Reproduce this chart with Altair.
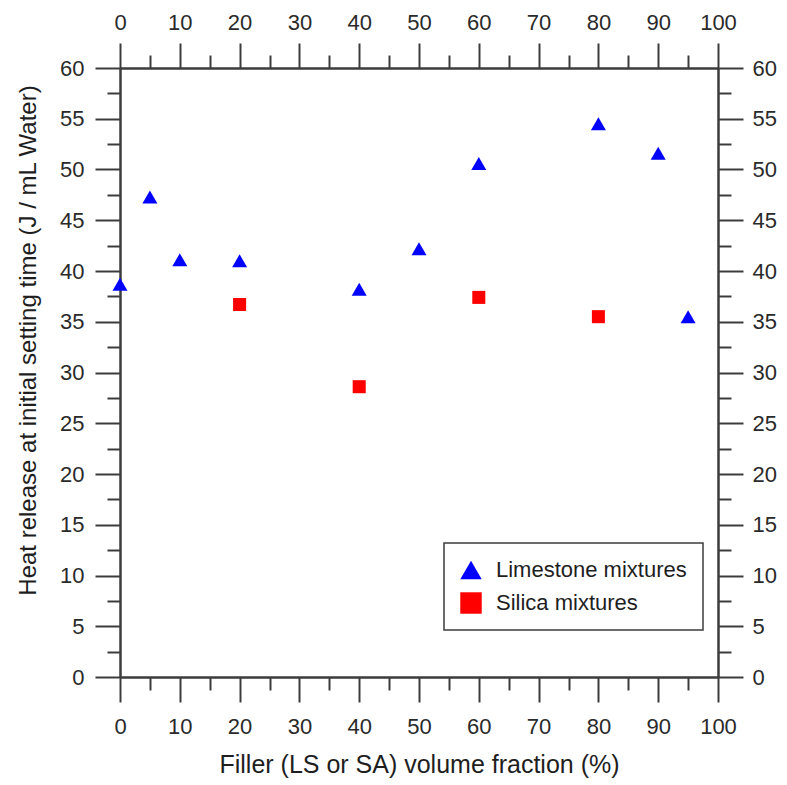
import altair as alt
import pandas as pd

# ---- data ----
series_names = ["Limestone mixtures", "Silica mixtures"]
ls_x = [0, 5, 10, 20, 40, 50, 60, 80, 90, 95]
ls_y = [38.7, 47.3, 41.1, 41.0, 38.2, 42.2, 50.6, 54.5, 51.6, 35.5]
sa_x = [20, 40, 60, 80]
sa_y = [36.7, 28.6, 37.4, 35.5]

x_major = [0, 10, 20, 30, 40, 50, 60, 70, 80, 90, 100]
x_minor = [5, 15, 25, 35, 45, 55, 65, 75, 85, 95]
y_major = [0, 5, 10, 15, 20, 25, 30, 35, 40, 45, 50, 55, 60]
y_minor = [2.5, 7.5, 12.5, 17.5, 22.5, 27.5, 32.5, 37.5, 42.5, 47.5, 52.5, 57.5]

df_ls = pd.DataFrame({"x": ls_x, "y": ls_y, "series": series_names[0]})
df_sa = pd.DataFrame({"x": sa_x, "y": sa_y, "series": series_names[1]})
df_all = pd.concat([df_ls, df_sa], ignore_index=True)

FONT = "Liberation Sans"
AX = "#3c3c3c"
xs = alt.Scale(domain=[0, 100], nice=False, zero=False)
ys = alt.Scale(domain=[0, 60], nice=False, zero=False)

common = dict(domainColor=AX, domainWidth=2, tickColor=AX, tickWidth=2,
              labelFont=FONT, labelFontSize=22, labelColor="#2a2a2a", grid=False,
              labelFlush=False, labelOverlap=False,
              titleFont=FONT, titleColor="#1e1e1e", titleFontWeight="normal")


def axis(orient, values, major, title=None, **kw):
    args = dict(common)
    args.update(orient=orient, values=values, tickSize=25 if major else 13,
                labels=major, title=title)
    args.update(kw)
    return alt.Axis(**args)


legend = alt.Legend(title=None, orient="none", legendX=324, legendY=475,
                    strokeColor=AX, fillColor="white",
                    padding=16, labelFont=FONT, labelFontSize=22, labelColor="#1e1e1e",
                    labelLimit=400, symbolSize=460, rowPadding=11, labelOffset=14,
                    symbolStrokeWidth=0)

color = alt.Color("series:N", scale=alt.Scale(domain=series_names, range=["#0000ff", "#ff0000"]),
                  legend=legend)
shape = alt.Shape("series:N", scale=alt.Scale(domain=series_names, range=["triangle-up", "square"]),
                  legend=legend)

layer_a = alt.Chart(df_ls).mark_point(filled=True, size=225, opacity=1).encode(
    x=alt.X("x:Q", scale=xs, axis=axis("bottom", x_major, True,
                                        title="Filler (LS or SA) volume fraction (%)",
                                        titleFontSize=25, labelPadding=14, titlePadding=15)),
    y=alt.Y("y:Q", scale=ys, axis=axis("left", y_major, True,
                                        title="Heat release at initial setting time (J / mL Water)",
                                        titleFontSize=24, labelPadding=11,
                                        titleX=-80, titleY=272)),
    color=color, shape=shape,
)

layer_b = alt.Chart(df_sa).mark_point(filled=True, size=170, opacity=1).encode(
    x=alt.X("x:Q", scale=xs, axis=axis("bottom", x_minor, False)),
    y=alt.Y("y:Q", scale=ys, axis=axis("left", y_minor, False)),
    color=color, shape=shape,
)

layer_c = alt.Chart(df_all).mark_point(opacity=0).encode(
    x=alt.X("x:Q", scale=xs, axis=axis("top", x_major, True, labelPadding=9)),
    y=alt.Y("y:Q", scale=ys, axis=axis("right", y_major, True, labelPadding=9)),
)

layer_d = alt.Chart(df_all).mark_point(opacity=0).encode(
    x=alt.X("x:Q", scale=xs, axis=axis("top", x_minor, False)),
    y=alt.Y("y:Q", scale=ys, axis=axis("right", y_minor, False)),
)

chart = alt.layer(layer_a, layer_b, layer_c, layer_d).resolve_axis(
    x="independent", y="independent"
).properties(
    width=598, height=609,
    autosize=alt.AutoSizeParams(type="none"),
    padding={"left": 120, "top": 68, "right": 69, "bottom": 108},
    background="white",
).configure_view(stroke=None).configure_legend(strokeWidth=1.5)

chart.save("out.html", embed_options={"renderer": "svg", "actions": False})
